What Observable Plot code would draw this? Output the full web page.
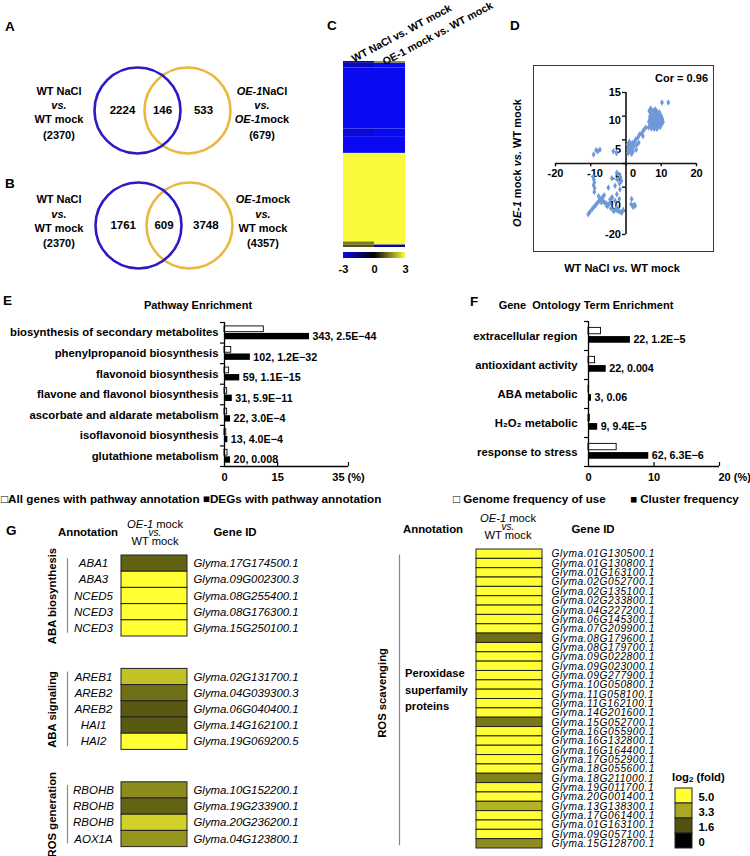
<!DOCTYPE html>
<html>
<head>
<meta charset="utf-8">
<script src="https://cdn.jsdelivr.net/npm/d3@7"></script>
<script src="https://cdn.jsdelivr.net/npm/@observablehq/plot@0.6"></script>
<style>
html,body{margin:0;padding:0;background:#fff;}
#fig{position:relative;width:750px;height:856px;overflow:hidden;background:#fff;font-family:"Liberation Sans",Arial,Helvetica,sans-serif;font-weight:bold;color:#000;}
#fig i{font-style:italic;}
</style>
</head>
<body>
<div id="fig"></div>
<script>
// ---------------- DATA ----------------
// A, B Venn diagrams: [left only, shared, right only]
const vennACounts = [2224, 146, 533];
const vennBCounts = [1761, 609, 3748];
const vennALeft = ["WT NaCl", "<i>vs.</i>", "WT mock", "(2370)"];
const vennARight = ["<i>OE-1</i>NaCl", "<i>vs.</i>", "<i>OE-1</i>mock", "(679)"];
const vennBLeft = ["WT NaCl", "<i>vs.</i>", "WT mock", "(2370)"];
const vennBRight = ["<i>OE-1</i>mock", "<i>vs.</i>", "WT mock", "(4357)"];

// C heatmap: blocks of genes (gene counts) and log2 values per column
const heatColumns = ["WT NaCl vs. WT mock", "OE-1 mock vs. WT mock"];
const heatBlockGenes = [6, 15, 200, 25, 55, 290, 10, 8];
const heatWT = [-2.0, -2.3, -3, -2.7, -3, 3, 1.5, 1.0];
const heatOE = [1.8, -3, -3, -3, -3, 3, 3, -2.0];
const heatTicks = [-3, 0, 3];

// D scatter: [WT NaCl vs WT mock, OE-1 mock vs WT mock]
const scatterPoints = [
  [12,12.9],[10.2,12.9],[7.0,11.6],[7.7,11.2],[8.3,11.4],[6.6,11.1],[8.8,11.0],[9.5,10.8],[7.2,10.6],[8.0,10.5],
  [8.6,10.3],[9.2,10.2],[10.0,10.0],[6.8,10.0],[7.6,9.8],[8.2,9.7],[8.9,9.6],[9.6,9.5],[10.3,9.4],[7.0,9.3],
  [7.8,9.2],[8.5,9.1],[9.2,9.0],[9.9,8.9],[6.5,8.8],[7.3,8.7],[8.0,8.6],[8.7,8.5],[9.4,8.4],[10.1,8.3],
  [6.9,8.1],[7.6,8.0],[8.3,7.9],[9.0,7.8],[9.7,7.7],[6.4,7.6],[7.2,7.4],[8.0,7.3],[8.8,7.3],[7.5,8.4],
  [8.6,8.9],[9.9,9.8],[7.3,9.9],[8.4,10.1],[9.1,9.4],[6.8,9.5],[10.5,8.8],[8.1,11.0],[9.0,10.6],[7.9,10.0],
  [5.6,7.6],[5.0,7.0],[4.4,6.4],[3.8,6.1],[3.4,5.5],[2.8,5.1],[2.4,4.6],[1.8,4.3],[1.2,4.0],[0.9,3.5],
  [0.7,3.0],[1.5,3.3],[2.2,3.6],[3.0,3.9],[1.2,2.5],[2.0,2.6],[2.9,2.9],[0.6,2.2],[1.6,2.0],[3.6,4.4],
  [4.8,5.8],[0.5,4.0],[1.0,4.6],
  [-8.5,2.8],[-7.4,2.9],[-8.0,2.6],[-9.2,1.9],[-3.6,2.6],[-2.7,2.2],
  [-9.3,-2.8],[-9.1,-3.4],[-9.0,-4.0],[-9.2,-4.6],[-8.9,-5.2],[-9.0,-6.0],[-10.7,-10.7],[-10.2,-10.2],[-9.6,-9.6],[-9.1,-9.2],
  [-8.6,-8.8],[-8.1,-8.3],[-7.6,-7.9],[-7.1,-7.4],[-6.6,-7.1],[-6.2,-6.7],[-7.8,-6.9],[-7.0,-8.2],[-6.5,-8.0],[-6.0,-8.3],
  [-5.5,-8.5],[-5.0,-8.7],[-4.6,-8.4],[-5.3,-9.0],[-4.2,-9.5],[-3.9,-7.2],[-4.5,-7.6],[-4.0,-3.1],[-2.6,-1.9],[-1.8,-2.4],
  [-1.5,-3.0],[-1.3,-3.7],[-1.8,-4.2],[-2.4,-3.4],[-3.1,-4.7],[-2.6,-6.5],[-1.7,-5.5],[-5.0,-5.1],[-4.0,-7.2],[-3.1,-7.9],
  [-1.9,-7.5],[-2.6,-9.3],[-2.2,-10.0],[-1.2,-10.4],[-1.7,-10.2],[-0.8,-9.8],[-2.8,-9.8],[-3.5,-10.1],
  [1.6,-7.5],[1.5,-8.6],[2.3,-8.7],[2.0,-9.2],[2.6,-8.9]
];
const scatterXTicks = [-20, -10, 0, 10, 20];
const scatterXTickLabels = ["-20", "-10", "0", "10", "20"];
const scatterXLabelPos = [-20, -8.8, 2, 10, 20];
const scatterYTicks = [15, 10, 5, 0, -5, -10, -15];
const scatterYTickLabels = ["15", "10", "5", "-5", "-10", "-20"];
const scatterYLabelPos = [15, 9.1, 3, -3, -8.9, -15];

// E pathway enrichment (%)
const pathwayNames = ["biosynthesis of secondary metabolites", "phenylpropanoid biosynthesis", "flavonoid biosynthesis",
  "flavone and flavonol biosynthesis", "ascorbate and aldarate metabolism", "isoflavonoid biosynthesis", "glutathione metabolism"];
const pathwayAll = [11.1, 1.9, 1.3, 0.75, 0.75, 0.5, 0.85];
const pathwayDEG = [24.0, 7.3, 4.3, 2.2, 1.7, 0.95, 1.7];
const pathwayCounts = [343, 102, 59, 31, 22, 13, 20];
const pathwayP = ["2.5E\u221244", "1.2E\u221232", "1.1E\u221215", "5.9E\u221211", "3.0E\u22124", "4.0E\u22124", "0.008"];
const pathwayTicks = [0, 15, 35];
const pathwayTickLabels = ["0", "15", "35 (%)"];

// F GO term enrichment (%)
const goNames = ["extracellular region", "antioxidant activity", "ABA metabolic", "H\u2082O\u2082 metabolic", "response to stress"];
const goGenome = [1.9, 1.0, 0.08, 0.2, 4.3];
const goCluster = [6.4, 2.7, 0.46, 1.4, 9.2];
const goCounts = [22, 22, 3, 9, 62];
const goP = ["1.2E\u22125", "0.004", "0.06", "9.4E\u22125", "6.3E\u22126"];
const goTicks = [0, 10, 20];
const goTickLabels = ["0", "10", "20 (%)"];

// G heatmaps: log2 (fold)
const abaBioGenes = ["ABA1", "ABA3", "NCED5", "NCED3", "NCED3"];
const abaBioIds = ["Glyma.17G174500.1", "Glyma.09G002300.3", "Glyma.08G255400.1", "Glyma.08G176300.1", "Glyma.15G250100.1"];
const abaBioFold = [1.9, 5, 5, 5, 5];
const abaSigGenes = ["AREB1", "AREB2", "AREB2", "HAI1", "HAI2"];
const abaSigIds = ["Glyma.02G131700.1", "Glyma.04G039300.3", "Glyma.06G040400.1", "Glyma.14G162100.1", "Glyma.19G069200.5"];
const abaSigFold = [3.8, 2.2, 1.75, 1.75, 5];
const rosGenGenes = ["RBOHB", "RBOHB", "RBOHB", "AOX1A"];
const rosGenIds = ["Glyma.10G152200.1", "Glyma.19G233900.1", "Glyma.20G236200.1", "Glyma.04G123800.1"];
const rosGenFold = [2.75, 1.95, 4.1, 2.95];
const rosScavIds = ["Glyma.01G130500.1", "Glyma.01G130800.1", "Glyma.01G163100.1", "Glyma.02G052700.1", "Glyma.02G135100.1",
  "Glyma.02G233800.1", "Glyma.04G227200.1", "Glyma.06G145300.1", "Glyma.07G209900.1", "Glyma.08G179600.1",
  "Glyma.08G179700.1", "Glyma.09G022800.1", "Glyma.09G023000.1", "Glyma.09G277900.1", "Glyma.10G050800.1",
  "Glyma.11G058100.1", "Glyma.11G162100.1", "Glyma.14G201600.1", "Glyma.15G052700.1", "Glyma.16G055900.1",
  "Glyma.16G132800.1", "Glyma.16G164400.1", "Glyma.17G052900.1", "Glyma.18G055600.1", "Glyma.18G211000.1",
  "Glyma.19G011700.1", "Glyma.20G001400.1", "Glyma.13G138300.1", "Glyma.17G061400.1", "Glyma.01G163100.1",
  "Glyma.09G057100.1", "Glyma.15G128700.1"];
const rosScavFold = [5, 5, 5, 5, 5, 5, 5, 5, 5, 2.15, 5, 5, 5, 5, 5, 5, 5, 5, 2.35, 5, 5, 5, 5, 5, 2.55, 5, 5, 3.5, 5, 5, 5, 2.75];
const foldLegend = [5.0, 3.3, 1.6, 0];
const foldLegendLabels = ["5.0", "3.3", "1.6", "0"];

// ---------------- STYLE ----------------
const FONT = "'Liberation Sans', Arial, Helvetica, sans-serif";
const plotStyle = `font-family:${FONT};font-weight:bold;font-size:11px;background:transparent;overflow:visible;`;
const vennBlue = "#2c1bc2", vennGold = "#ebb83e";
const heatRange = ["#0a0af2", "#000000", "#fafa3c"];
const foldScale = {type: "linear", domain: [0, 5], range: ["#000000", "#ffff33"], clamp: true};

const fig = document.getElementById("fig");
function place(el, left, top) {
  el.style.position = "absolute";
  el.style.left = left + "px";
  el.style.top = top + "px";
  el.style.background = "transparent";
  el.style.overflow = "visible";
  el.style.maxWidth = "none";
  fig.appendChild(el);
  return el;
}
function txt(html, x, y, o = {}) {
  const d = document.createElement("div");
  d.innerHTML = html;
  const size = o.size ?? 11;
  d.style.cssText = `position:absolute;left:${x}px;top:${y}px;white-space:nowrap;font-size:${size}px;line-height:${o.lh ?? 1.15};` +
    `font-weight:${o.weight ?? "bold"};font-style:${o.style ?? "normal"};`;
  const tx = o.anchor === "start" ? "0" : o.anchor === "end" ? "-100%" : "-50%";
  if (o.origin) d.style.transformOrigin = o.origin;
  d.style.transform = `translate(${tx},-50%)` + (o.rotate ? ` rotate(${o.rotate}deg)` : "");
  fig.appendChild(d);
  return d;
}

// ---------------- PANEL LETTERS ----------------
[["A", 5, 26.5], ["B", 5, 184], ["C", 327, 26], ["D", 510, 25.5], ["E", 3, 301], ["F", 470, 302], ["G", 6, 531]]
  .forEach(([t, x, y]) => txt(t, x, y, {anchor: "start", size: 13.5}));

// ---------------- A, B VENN ----------------
const vennNumPos = [-0.3, 0.5, 1.32];
function vennPlot(counts, unit) {
  const nums = counts.map((v, i) => ({p: vennNumPos[i], v}));
  return Plot.plot({
    width: 200, height: 100, margin: 0, style: plotStyle,
    x: {domain: [-97 / unit, 103 / unit], axis: null},
    y: {domain: [-1, 1], axis: null},
    marks: [
      Plot.dot([{k: 1}], {x: "k", y: 0, r: 43, stroke: vennGold, strokeWidth: 2.6, fill: "none"}),
      Plot.dot([{k: 0}], {x: "k", y: 0, r: 43, stroke: vennBlue, strokeWidth: 2.6, fill: "none"}),
      Plot.text(nums, {x: "p", y: 0, text: d => String(d.v), fontSize: 11.5, fontWeight: "bold"})
    ]
  });
}
place(vennPlot(vennACounts, 50), 40, 60);
place(vennPlot(vennBCounts, 51), 41, 175);
[91, 105, 119, 135].forEach((y, i) => { txt(vennALeft[i], 59, y); txt(vennARight[i], 262, y); });
[199, 214, 228, 243].forEach((y, i) => { txt(vennBLeft[i], 59, y); txt(vennBRight[i], 263, y); });

// ---------------- C HEATMAP ----------------
let acc = 0;
const heatCells = [];
heatBlockGenes.forEach((n, i) => {
  heatCells.push({col: 0, y1: acc, y2: acc + n, v: heatWT[i]});
  heatCells.push({col: 1, y1: acc, y2: acc + n, v: heatOE[i]});
  acc += n;
});
const heatLabels = heatColumns.map((t, i) => ({t, c: i + 0.5}));
place(Plot.plot({
  width: 62, height: 186, margin: 0, style: plotStyle,
  x: {domain: [0, 2], axis: null},
  y: {domain: [0, acc], reverse: true, axis: null},
  color: {type: "linear", domain: heatTicks, range: heatRange, clamp: true},
  marks: [
    Plot.rect(heatCells, {x1: "col", x2: d => d.col + 1, y1: "y1", y2: "y2", fill: "v"}),
    Plot.text(heatLabels.slice(0, 1), {x: "c", y: 0, text: "t", rotate: -28, textAnchor: "start", dx: -6.5, dy: -2, fontSize: 10.6}),
    Plot.text(heatLabels.slice(1), {x: "c", y: 0, text: "t", rotate: -28, textAnchor: "start", dx: -6.5, dy: 1, fontSize: 10.6})
  ]
}), 343, 61);
const ramp = Plot.legend({
  color: {type: "linear", domain: heatTicks, range: heatRange},
  width: 74, height: 19, marginLeft: 6, marginRight: 6, marginTop: 0, marginBottom: 13,
  tickSize: 4, ticks: heatTicks, tickFormat: d => String(d), label: null, style: plotStyle
});
ramp.querySelectorAll(".tick line").forEach(l => l.remove());
place(ramp, 337, 252);

// ---------------- D SCATTER ----------------
const box = document.createElement("div");
box.style.cssText = "position:absolute;left:533px;top:65px;width:181px;height:187px;border:1.5px solid #3a3a3a;box-sizing:border-box;";
fig.appendChild(box);
place(Plot.plot({
  width: 181, height: 187, marginLeft: 22, marginRight: 18, marginTop: 27, marginBottom: 18, style: plotStyle,
  x: {domain: [-20, 20], axis: null},
  y: {domain: [-15, 15], axis: null},
  marks: [
    Plot.ruleY([0], {stroke: "#111", strokeWidth: 1.6}),
    Plot.ruleX([0], {stroke: "#111", strokeWidth: 1.6}),
    Plot.ruleX(scatterXTicks, {y1: 0, y2: -0.7, stroke: "#111", strokeWidth: 1.4}),
    Plot.ruleY(scatterYTicks, {x1: -1, x2: 0, stroke: "#111", strokeWidth: 1.4}),
    Plot.text(scatterYTickLabels, {x: 0, y: (d, i) => scatterYLabelPos[i], text: d => d, dx: -5, textAnchor: "end", fontSize: 11}),
    Plot.text(scatterXTickLabels, {x: (d, i) => scatterXLabelPos[i], y: 0, text: d => d, dy: 10, fontSize: 11}),
    Plot.dot(scatterPoints, {x: d => d[0], y: d => d[1], symbol: "diamond", r: 2.0, fill: "#6f98d8", stroke: "none"})
  ]
}), 533, 65);
txt("Cor = 0.96", 708, 78, {anchor: "end"});
txt("<i>OE-1</i> mock <i>vs.</i> WT mock", 517, 163, {rotate: -90});
txt("WT NaCl <i>vs.</i> WT mock", 622, 268);

// ---------------- E, F BAR CHARTS ----------------
function enrichPlot(names, open, filled, counts, pvals, ticks, tickLabels, o) {
  const rows = names.map((name, i) => ({i, name, a: open[i], b: filled[i], lab: `${counts[i]}, ${pvals[i]}`}));
  const n = rows.length;
  const bounds = rows.map(d => d.i - 0.5).concat([n - 0.5]);
  const xmax = ticks[ticks.length - 1];
  const tickLen = 4 / o.rowPx;
  return Plot.plot({
    width: o.width, height: o.height, marginLeft: o.ml, marginRight: o.mr, marginTop: o.mt, marginBottom: o.mb,
    style: plotStyle,
    x: {domain: [0, xmax], axis: null},
    y: {domain: [-0.5, n - 0.5], reverse: true, axis: null},
    marks: [
      Plot.rect(rows, {x1: 0, x2: "a", y1: d => d.i + o.o1, y2: d => d.i + o.o2, fill: "white", stroke: "black", strokeWidth: 0.9}),
      Plot.rect(rows, {x1: 0, x2: "b", y1: d => d.i + o.b1, y2: d => d.i + o.b2, fill: "black"}),
      Plot.ruleX([0], {stroke: "black", strokeWidth: 1.3}),
      Plot.ruleY([n - 0.5], {stroke: "black", strokeWidth: 1.3}),
      Plot.ruleY(bounds, {x1: 0, x2: -4 * xmax / (o.width - o.ml - o.mr), stroke: "black", strokeWidth: 1.2}),
      Plot.ruleX(ticks.slice(1), {y1: n - 0.5, y2: n - 0.5 - tickLen, stroke: "black", strokeWidth: 1.2}),
      Plot.text(ticks.slice(0, -1), {x: d => d, y: n - 0.5, dy: 11, text: (d, i) => tickLabels[i], fontSize: 11}),
      Plot.text([xmax], {x: d => d, y: n - 0.5, dy: 11, dx: o.lastDx, text: () => tickLabels[tickLabels.length - 1], textAnchor: o.lastAnchor, fontSize: 11}),
      Plot.text(rows, {x: 0, y: "i", dx: o.labelDx, text: "name", textAnchor: "end", fontSize: 11.3}),
      Plot.text(rows, {x: "b", y: d => d.i + (o.b1 + o.b2) / 2, dx: 3, text: "lab", textAnchor: "start", fontSize: 10.7})
    ]
  });
}
place(enrichPlot(pathwayNames, pathwayAll, pathwayDEG, pathwayCounts, pathwayP, pathwayTicks, pathwayTickLabels,
  {width: 385, height: 175, ml: 224, mr: 37, mt: 7, mb: 24, rowPx: 20.6, o1: -0.31, o2: -0.03, b1: 0.03, b2: 0.34,
   labelDx: -6, lastDx: 0, lastAnchor: "middle"}), 0, 315);
place(enrichPlot(goNames, goGenome, goCluster, goCounts, goP, goTicks, goTickLabels,
  {width: 380, height: 175, ml: 218, mr: 31, mt: 6, mb: 24, rowPx: 29, o1: -0.28, o2: -0.06, b1: 0.02, b2: 0.25,
   labelDx: -11, lastDx: -1, lastAnchor: "start"}), 370, 315);
txt("Pathway Enrichment", 198, 305);
txt("Gene&nbsp; Ontology Term Enrichment", 586, 305);
txt("\u25A1All genes with pathway annotation \u25A0DEGs with pathway annotation", 1, 499, {anchor: "start", size: 11.7});
txt("\u25A1 Genome frequency of use", 453, 499, {anchor: "start", size: 11.6});
txt("\u25A0 Cluster frequency", 630, 499, {anchor: "start", size: 11.6});

// ---------------- G HEATMAPS ----------------
const groupsLeft = [
  {name: "ABA biosynthesis", genes: abaBioGenes, ids: abaBioIds, fold: abaBioFold},
  {name: "ABA signaling", genes: abaSigGenes, ids: abaSigIds, fold: abaSigFold},
  {name: "ROS generation", genes: rosGenGenes, ids: rosGenIds, fold: rosGenFold}
];
const gapRows = 2;
const leftRows = [], leftGroups = [];
let r = 0;
groupsLeft.forEach(g => {
  leftGroups.push({name: g.name, start: r, end: r + g.genes.length});
  g.genes.forEach((gene, i) => leftRows.push({row: r + i, gene, id: g.ids[i], fold: g.fold[i]}));
  r += g.genes.length + gapRows;
});
const totalLeft = r - gapRows;
place(Plot.plot({
  width: 330, height: 311, marginLeft: 121, marginRight: 143, marginTop: 10, marginBottom: 311 - 10 - 16.2 * totalLeft,
  style: plotStyle,
  x: {domain: [0, 1], axis: null},
  y: {domain: [0, totalLeft], reverse: true, axis: null},
  color: foldScale,
  marks: [
    Plot.rect(leftRows, {x1: 0, x2: 1, y1: "row", y2: d => d.row + 1, fill: "fold", stroke: "#222", strokeWidth: 1}),
    Plot.text(leftRows, {x: 1, y: d => d.row + 0.5, dx: 6, text: "id", textAnchor: "start", fontStyle: "italic", fontWeight: "normal", fontSize: 11.4}),
    Plot.text(leftRows, {x: 0, y: d => d.row + 0.5, dx: -28, text: "gene", fontStyle: "italic", fontWeight: "normal", fontSize: 11.5}),
    Plot.ruleX(leftGroups, {x: 0, dx: -54, y1: d => d.start + 0.2, y2: d => d.end - 0.2, stroke: "#888", strokeWidth: 1.2}),
    Plot.text(leftGroups, {x: 0, dx: -69, y: d => (d.start + d.end) / 2, text: "name", rotate: -90, fontSize: 11.3})
  ]
}), 0, 545);

const scavRows = rosScavIds.map((id, i) => ({row: i, id, fold: rosScavFold[i]}));
const nScav = scavRows.length;
const scavPlot = Plot.plot({
  width: 420, height: 316, marginLeft: 146, marginRight: 208, marginTop: 9, marginBottom: 8, style: plotStyle,
  x: {domain: [0, 1], axis: null},
  y: {domain: [0, nScav], reverse: true, axis: null},
  color: foldScale,
  marks: [
    Plot.rect(scavRows, {x1: 0, x2: 1, y1: "row", y2: d => d.row + 1, fill: "fold", stroke: "#222", strokeWidth: 1}),
    Plot.text(scavRows, {x: 1, y: d => d.row + 0.5, dx: 9, text: "id", textAnchor: "start", fontStyle: "italic", fontWeight: "normal", fontSize: 10.2}),
    Plot.ruleX([{s: 0.6, e: nScav - 0.3}], {x: 0, dx: -77, y1: "s", y2: "e", stroke: "#888", strokeWidth: 1.2}),
    Plot.text([{s: 0.6, e: nScav - 0.3}], {x: 0, dx: -94, y: d => (d.s + d.e) / 2 - 0.8, text: () => "ROS scavenging", rotate: -90, fontSize: 11.3})
  ]
});
scavPlot.querySelectorAll("text").forEach(t => { if (t.textContent.startsWith("Glyma.")) t.setAttribute("letter-spacing", "0.55"); });
place(scavPlot, 330, 540);

// fold legend
const legRows = foldLegend.map((v, i) => ({i, v, lab: foldLegendLabels[i]}));
place(Plot.plot({
  width: 60, height: 86, marginLeft: 5, marginRight: 38, marginTop: 18, marginBottom: 8, style: plotStyle,
  x: {domain: [0, 1], axis: null},
  y: {domain: [0, legRows.length], reverse: true, axis: null},
  color: foldScale,
  marks: [
    Plot.rect(legRows, {x1: 0, x2: 1, y1: "i", y2: d => d.i + 1, fill: "v", stroke: "#222", strokeWidth: 1}),
    Plot.text(legRows, {x: 1, y: d => d.i + 0.6, dx: 6, text: "lab", textAnchor: "start", fontSize: 11.3})
  ]
}), 670, 770);
txt("log<span style='font-size:8px;vertical-align:-1px'>2</span> (fold)", 672, 778, {anchor: "start", size: 11.3});

// G headers
txt("Annotation", 88, 533, {size: 11.4});
txt("<i>OE-1</i> mock", 155, 524, {weight: "normal", size: 11.2});
txt("<i>vs.</i>", 155, 532.5, {weight: "normal", size: 10});
txt("WT mock", 155, 541, {weight: "normal", size: 11.2});
txt("Gene ID", 235, 533, {size: 11.4});
txt("Annotation", 433, 530, {size: 11.4});
txt("<i>OE-1</i> mock", 508, 518, {weight: "normal", size: 11.2});
txt("<i>vs.</i>", 508, 526.5, {weight: "normal", size: 10});
txt("WT mock", 508, 535, {weight: "normal", size: 11.2});
txt("Gene ID", 593, 530, {size: 11.4});
txt("Peroxidase", 405, 673, {anchor: "start", size: 11.2});
txt("superfamily", 405, 690, {anchor: "start", size: 11.2});
txt("proteins", 405, 706, {anchor: "start", size: 11.2});
</script>
</body>
</html>
